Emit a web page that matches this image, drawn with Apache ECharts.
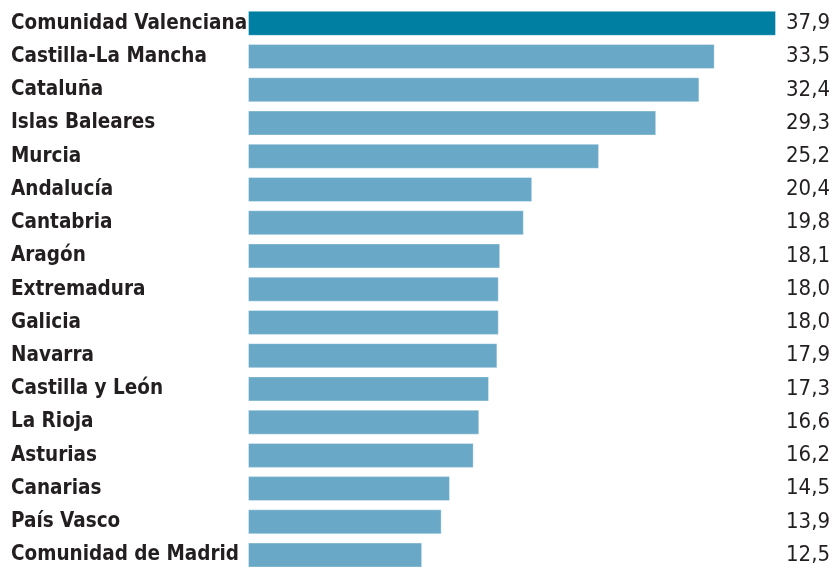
<!DOCTYPE html>
<html><head><meta charset="utf-8">
<script src="https://cdn.jsdelivr.net/npm/echarts@6/dist/echarts.min.js"></script>
<style>html,body{margin:0;padding:0;background:#fff}#c{width:836px;height:568px}</style>
</head><body><div id="c"></div>
<script>
const categories = ["Comunidad Valenciana","Castilla-La Mancha","Cataluña","Islas Baleares","Murcia","Andalucía","Cantabria","Aragón","Extremadura","Galicia","Navarra","Castilla y León","La Rioja","Asturias","Canarias","País Vasco","Comunidad de Madrid"];
const values = [37.9,33.5,32.4,29.3,25.2,20.4,19.8,18.1,18.0,18.0,17.9,17.3,16.6,16.2,14.5,13.9,12.5];
const valueLabels = values.map(v => v.toFixed(1).replace('.', ','));
const FONT = '"DejaVu Sans Condensed",sans-serif';
const chart = echarts.init(document.getElementById('c'), null, {renderer:'canvas'});
chart.setOption({
  animation:false,
  grid:{left:248, right:60, top:6.7, bottom:-3.7, outerBoundsMode:'none'},
  xAxis:{type:'value', min:0, max:37.9, show:false},
  yAxis:[
    {type:'category', data:categories, inverse:true, axisLine:{show:false}, axisTick:{show:false},
     axisLabel:{align:'left', margin:237, fontFamily:FONT, fontSize:20.5, fontWeight:'bold', color:'#231f20'}},
    {type:'category', data:valueLabels, inverse:true, position:'right', axisLine:{show:false}, axisTick:{show:false},
     axisLabel:{align:'right', margin:54, fontFamily:FONT, fontSize:22, color:'#231f20'}}
  ],
  series:[{type:'bar', data:values.map((v,i)=>({value:v, itemStyle:{color:i===0?'#007fa3':'#69a9c7'}})), barWidth:25,
    itemStyle:{borderColor:'rgba(255,255,255,0.35)', borderWidth:1}}]
});
</script></body></html>
